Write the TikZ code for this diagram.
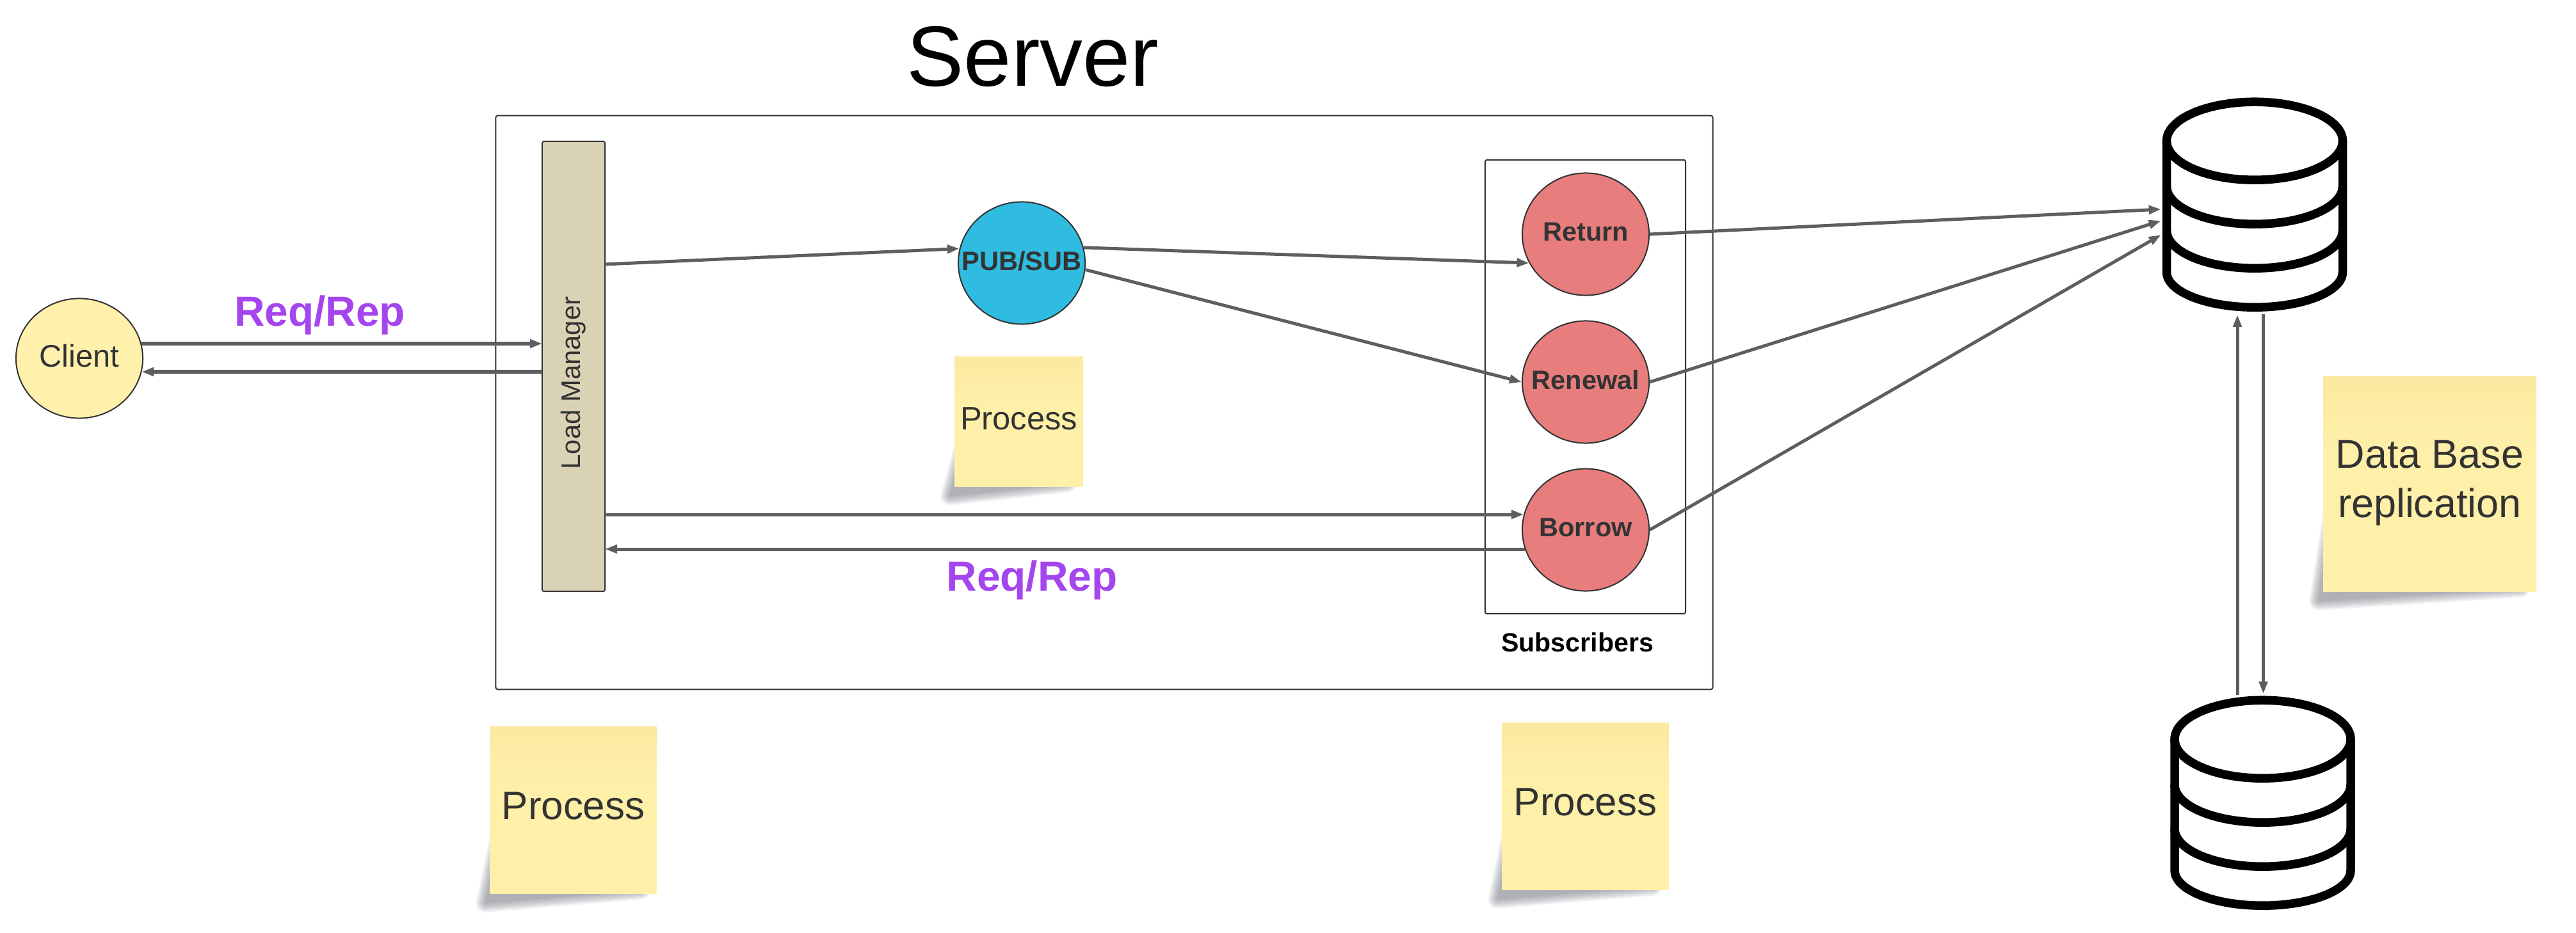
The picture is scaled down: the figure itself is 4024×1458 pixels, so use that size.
\documentclass[tikz,border=0pt]{standalone}
\usepackage{fontspec}
\setmainfont{Liberation Sans}
\usepackage{tikz}
\usetikzlibrary{arrows.meta,backgrounds,calc,shapes.geometric}

\definecolor{inkgray}{HTML}{333333}
\definecolor{wiregray}{HTML}{5E5E5E}
\definecolor{notefill}{HTML}{FFF0A9}
\definecolor{notetop}{HTML}{FAE9A1}
\definecolor{clientfill}{HTML}{FFF1AC}
\definecolor{managerfill}{HTML}{D9D2B4}
\definecolor{brokerfill}{HTML}{2FBCE0}
\definecolor{subfill}{HTML}{E87D7D}
\definecolor{reqpurple}{HTML}{A445ED}
\definecolor{shadowgray}{HTML}{4A505C}

\pgfdeclareverticalshading{notesheen}{100bp}{color(0bp)=(notefill); color(57bp)=(notefill); color(75bp)=(notetop); color(100bp)=(notetop)}

\newcommand{\flatlabel}[1]{\makebox[0pt]{#1}}
\newcommand{\noteshadow}[1]{%
  \foreach \w in {.30,.26,.22,.18,.14,.10,.06,.02}{
    \begin{scope}[transparency group,opacity=.07]
      \filldraw[shadowgray,line width=\w cm,line join=round]
        ($(#1.west)+(18,30)$) -- ($(#1.south west)+(-6,14)$) -- ($(#1.south east)+(-26,-6)$) -- cycle;
    \end{scope}
  }
}

\tikzset{
  boxline/.style={draw=inkgray,line width=.02cm,rounded corners=.03cm},
  roundnode/.style={ellipse,draw=inkgray,line width=.02cm,inner sep=0,minimum width=1.98cm,minimum height=1.91cm,
    text=inkgray,text depth=.08cm,font=\fontsize{11.8}{14}\selectfont\bfseries},
  notenode/.style={rectangle,shading=notesheen,inner sep=0,
    minimum width=2.6cm,minimum height=2.6cm,text=inkgray,text depth=.14cm,align=center,font=\fontsize{17.6}{21.9}\selectfont},
  reqlabel/.style={anchor=base,text=reqpurple,font=\fontsize{18.7}{22}\selectfont\bfseries},
  dbnode/.style={rectangle,inner sep=0,minimum width=2.75cm,minimum height=3.21cm},
  dbline/.style={draw=black,line width=.135cm},
  conn/.style={draw=wiregray,line width=.05cm,-{Triangle[length=.19cm,width=.13cm]}},
  dbstack/.pic={
    \draw[dbline] (0,0) ellipse (137.5 and 61);
    \draw[dbline] (-137.5,0) -- (-137.5,205) arc[start angle=180,end angle=0,x radius=137.5,y radius=55] -- (137.5,0);
    \draw[dbline] (-137.5,71) arc[start angle=180,end angle=0,x radius=137.5,y radius=59];
    \draw[dbline] (-137.5,140) arc[start angle=180,end angle=0,x radius=137.5,y radius=59];
  }
}

\begin{document}
\begin{tikzpicture}[x=.01cm,y=-.01cm]
  \useasboundingbox (0,0) rectangle (4024,1458);

  \node[anchor=base,font=\fontsize{38}{44}\selectfont] (Server-title) at (1613.5,135) {Server};
  \node[boxline,inner sep=0,minimum width=19cm,minimum height=8.96cm] (Server-box) at (1725,629) {};
  \node[boxline,inner sep=0,minimum width=3.13cm,minimum height=7.09cm] (Sub-box) at (2476.5,604.5) {};
  \node[anchor=base,font=\fontsize{11.7}{14}\selectfont\bfseries] (Sub-title) at (2464,1018) {Subscribers};

  \node[roundnode,fill=clientfill,minimum height=1.87cm,font=\fontsize{13.9}{16}\selectfont] (Client) at (124,560) {\flatlabel{Client}};
  \node[boxline,fill=managerfill,rotate=90,inner sep=0,minimum width=7.03cm,minimum height=.98cm,
    text=inkgray,font=\fontsize{11.9}{14}\selectfont] (Manager) at (896,572.5) {Load Manager\hspace{14.8pt}\null};
  \node[roundnode,fill=brokerfill] (Broker) at (1596,411) {\flatlabel{PUB/SUB}};
  \node[roundnode,fill=subfill] (Sub-1) at (2477,366) {\flatlabel{Return}};
  \node[roundnode,fill=subfill] (Sub-2) at (2477,597) {\flatlabel{Renewal}};
  \node[roundnode,fill=subfill] (Sub-3) at (2477,828) {\flatlabel{Borrow}};

  \node[dbnode] (DB-1) at (3522,320.5) {};
  \node[dbnode] (DB-2) at (3534.5,1255.5) {};
  \pic at ($(DB-1.north)+(0,61)$) {dbstack};
  \pic at ($(DB-2.north)+(0,61)$) {dbstack};

  \node[notenode,minimum width=2.01cm,minimum height=2.02cm,text depth=.1cm,font=\fontsize{14.4}{17}\selectfont] (Note-1) at (1591.5,659) {Process};
  \node[notenode] (Note-2) at (895.5,1266) {Process};
  \node[notenode] (Note-3) at (2476.5,1260) {Process};
  \node[notenode,minimum width=3.33cm,minimum height=3.35cm,text depth=.17cm,font=\fontsize{17.9}{21.9}\selectfont] (Note-4) at (3795.5,756.5) {Data Base\\replication};
  \begin{scope}[on background layer]
    \noteshadow{Note-1}
    \noteshadow{Note-2}
    \noteshadow{Note-3}
    \noteshadow{Note-4}
  \end{scope}

  \coordinate (Manager-a) at (847,537);
  \coordinate (Manager-b) at (847,581);
  \coordinate (Manager-c) at (945,413);
  \coordinate (Manager-d) at (945,804);
  \coordinate (Manager-e) at (945,858);

  \draw[conn] (Client.13 |- Manager-a) -- (Manager-a);
  \draw[conn] (Manager-b) -- (Client.347 |- Manager-b);
  \draw[conn] (Manager-c) -- (Broker.167);
  \draw[conn] (Broker.14) -- (Sub-1.207);
  \draw[conn] (Broker.354) -- (Sub-2.west);
  \draw[conn] (Manager-d) -- (Sub-3.166 |- Manager-d);
  \draw[conn] (Sub-3.197 |- Manager-e) -- (Manager-e);
  \draw[conn] (Sub-1.east) -- ($(DB-1.west)+(-8,6.5)$);
  \draw[conn] (Sub-2.east) -- ($(DB-1.west)+(-8,24.5)$);
  \draw[conn] (Sub-3.east) -- ($(DB-1.west)+(-8,46.5)$);
  \draw[conn] ($(DB-2.north)+(-39.5,-8)$) -- ($(DB-1.south)+(-27,10)$);
  \draw[conn] ($(DB-1.south)+(13.5,9)$) -- ($(DB-2.north)+(1,-10)$);

  \node[reqlabel] (Req-1) at (499.5,509) {Req/Rep};
  \node[reqlabel] (Req-2) at (1612,923) {Req/Rep};
\end{tikzpicture}
\end{document}
